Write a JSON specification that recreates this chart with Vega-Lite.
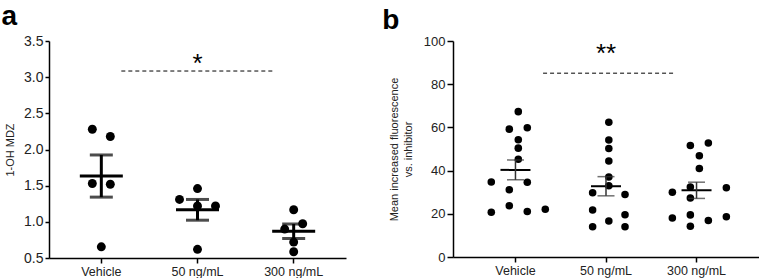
{
  "$schema": "https://vega.github.io/schema/vega-lite/v6.json",
  "padding": {"left": 1, "top": 3, "right": 0, "bottom": 0},
  "spacing": 36,
  "config": {
    "aria": false,
    "view": {"stroke": null},
    "font": "Liberation Sans",
    "axis": {"domainColor": "#000", "tickColor": "#000", "labelColor": "#222", "titleColor": "#222", "grid": false, "titleFontWeight": "normal", "labelFont": "Liberation Sans", "titleFont": "Liberation Sans", "domainWidth": 1.5, "tickWidth": 1.5, "labelOverlap": false},
    "title": {"anchor": "start", "frame": "bounds", "fontSize": 28, "fontWeight": "bold", "color": "#000", "baseline": "top", "font": "Liberation Sans"}
  },
  "datasets": {
    "a": [
      {"group": "Vehicle", "value": 2.28, "col": -1},
      {"group": "Vehicle", "value": 2.18, "col": 1},
      {"group": "Vehicle", "value": 1.53, "col": -1},
      {"group": "Vehicle", "value": 1.52, "col": 1},
      {"group": "Vehicle", "value": 0.655, "col": 0},
      {"group": "50 ng/mL", "value": 1.31, "col": -2},
      {"group": "50 ng/mL", "value": 1.46, "col": 0},
      {"group": "50 ng/mL", "value": 1.22, "col": 0},
      {"group": "50 ng/mL", "value": 1.22, "col": 2},
      {"group": "50 ng/mL", "value": 0.62, "col": 0},
      {"group": "300 ng/mL", "value": 1.167, "col": 0},
      {"group": "300 ng/mL", "value": 0.973, "col": 1},
      {"group": "300 ng/mL", "value": 0.9, "col": -1},
      {"group": "300 ng/mL", "value": 0.72, "col": 0},
      {"group": "300 ng/mL", "value": 0.586, "col": 0}
    ],
    "b": [
      {"group": "Vehicle", "value": 67.3, "col": 0},
      {"group": "Vehicle", "value": 59.2, "col": -1},
      {"group": "Vehicle", "value": 59.8, "col": 1},
      {"group": "Vehicle", "value": 54.3, "col": 0},
      {"group": "Vehicle", "value": 50.4, "col": 0},
      {"group": "Vehicle", "value": 45.3, "col": 0},
      {"group": "Vehicle", "value": 34.7, "col": -3},
      {"group": "Vehicle", "value": 34.6, "col": 1},
      {"group": "Vehicle", "value": 31.1, "col": -1},
      {"group": "Vehicle", "value": 23.7, "col": -1},
      {"group": "Vehicle", "value": 20.7, "col": -3},
      {"group": "Vehicle", "value": 21.1, "col": 1},
      {"group": "Vehicle", "value": 22.1, "col": 3},
      {"group": "50 ng/mL", "value": 62.4, "col": 0},
      {"group": "50 ng/mL", "value": 54.2, "col": 0},
      {"group": "50 ng/mL", "value": 50.2, "col": 0},
      {"group": "50 ng/mL", "value": 44.4, "col": 0},
      {"group": "50 ng/mL", "value": 37.0, "col": 0},
      {"group": "50 ng/mL", "value": 33.0, "col": 0},
      {"group": "50 ng/mL", "value": 29.7, "col": -1.8},
      {"group": "50 ng/mL", "value": 28.9, "col": 1.8},
      {"group": "50 ng/mL", "value": 21.8, "col": -1.8},
      {"group": "50 ng/mL", "value": 19.6, "col": 1.8},
      {"group": "50 ng/mL", "value": 16.7, "col": 0},
      {"group": "50 ng/mL", "value": 14.0, "col": -1.8},
      {"group": "50 ng/mL", "value": 14.0, "col": 1.8},
      {"group": "300 ng/mL", "value": 51.6, "col": -1},
      {"group": "300 ng/mL", "value": 52.8, "col": 1},
      {"group": "300 ng/mL", "value": 46.9, "col": 0},
      {"group": "300 ng/mL", "value": 41.0, "col": 0},
      {"group": "300 ng/mL", "value": 30.0, "col": -3},
      {"group": "300 ng/mL", "value": 32.4, "col": -1},
      {"group": "300 ng/mL", "value": 32.1, "col": 3},
      {"group": "300 ng/mL", "value": 27.3, "col": -1},
      {"group": "300 ng/mL", "value": 18.1, "col": -3},
      {"group": "300 ng/mL", "value": 19.5, "col": -1},
      {"group": "300 ng/mL", "value": 16.9, "col": 1},
      {"group": "300 ng/mL", "value": 18.6, "col": 3},
      {"group": "300 ng/mL", "value": 14.2, "col": -1}
    ],
    "sigA": [{"from": "Vehicle", "to": "300 ng/mL", "mid": "50 ng/mL", "y": 3.085, "ys": 3.07, "label": "*"}],
    "sigB": [{"from": "Vehicle", "to": "300 ng/mL", "mid": "50 ng/mL", "y": 85.1, "ys": 90.5, "label": "**"}]
  },
  "hconcat": [
    {
      "width": 297,
      "height": 217,
      "title": {"text": "a", "offset": 3, "dx": -3},
      "layer": [
        {
          "data": {"name": "a"},
          "mark": {"type": "circle", "size": 80, "color": "#000", "opacity": 1},
          "encoding": {
            "x": {"field": "group", "type": "nominal", "title": null, "scale": {"domain": ["Vehicle", "50 ng/mL", "300 ng/mL"], "paddingInner": 0, "paddingOuter": 0.044}, "axis": {"labelAngle": 0, "labelFontSize": 12.5, "tickSize": 5, "labelPadding": 2}},
            "xOffset": {"field": "col", "type": "quantitative", "scale": {"domain": [-5.344, 5.344]}},
            "y": {"field": "value", "type": "quantitative", "title": "1-OH MDZ", "scale": {"domain": [0.5, 3.5], "nice": false, "zero": false}, "axis": {"values": [0.5, 1.0, 1.5, 2.0, 2.5, 3.0, 3.5], "tickCount": 7, "format": ".1f", "labelFontSize": 14, "tickSize": 4, "titleFontSize": 11, "titlePadding": 8, "labelPadding": 2}}
          }
        },
        {
          "data": {"name": "a"},
          "mark": {"type": "tick", "color": "#000", "thickness": 3, "size": 43},
          "encoding": {
            "x": {"field": "group", "type": "nominal", "title": null},
            "y": {"aggregate": "mean", "field": "value", "type": "quantitative", "title": "1-OH MDZ", "axis": {"values": [0.5, 1.0, 1.5, 2.0, 2.5, 3.0, 3.5], "tickCount": 7, "format": ".1f", "labelFontSize": 14, "tickSize": 4, "titleFontSize": 11, "titlePadding": 8, "labelPadding": 2}}
          }
        },
        {
          "data": {"name": "a"},
          "mark": {"type": "errorbar", "extent": "stderr", "color": "#000", "thickness": 3, "ticks": {"size": 23}},
          "encoding": {
            "x": {"field": "group", "type": "nominal", "title": null},
            "y": {"field": "value", "type": "quantitative", "title": "1-OH MDZ", "axis": {"values": [0.5, 1.0, 1.5, 2.0, 2.5, 3.0, 3.5], "tickCount": 7, "format": ".1f", "labelFontSize": 14, "tickSize": 4, "titleFontSize": 11, "titlePadding": 8, "labelPadding": 2}}
          }
        },
        {
          "data": {"name": "sigA"},
          "mark": {"type": "rule", "strokeDash": [4, 3], "strokeWidth": 1, "color": "#000", "xOffset": 20, "x2Offset": -18.6},
          "encoding": {
            "x": {"field": "from", "type": "nominal", "title": null},
            "x2": {"field": "to"},
            "y": {"field": "y", "type": "quantitative", "title": "1-OH MDZ", "axis": {"values": [0.5, 1.0, 1.5, 2.0, 2.5, 3.0, 3.5], "tickCount": 7, "format": ".1f", "labelFontSize": 14, "tickSize": 4, "titleFontSize": 11, "titlePadding": 8, "labelPadding": 2}}
          }
        },
        {
          "data": {"name": "sigA"},
          "mark": {"type": "text", "fontSize": 26, "color": "#000", "baseline": "alphabetic"},
          "encoding": {
            "x": {"field": "mid", "type": "nominal", "title": null},
            "y": {"field": "ys", "type": "quantitative", "title": "1-OH MDZ", "axis": {"values": [0.5, 1.0, 1.5, 2.0, 2.5, 3.0, 3.5], "tickCount": 7, "format": ".1f", "labelFontSize": 14, "tickSize": 4, "titleFontSize": 11, "titlePadding": 8, "labelPadding": 2}},
            "text": {"field": "label"}
          }
        }
      ]
    },
    {
      "width": 306,
      "height": 216,
      "title": {"text": "b", "offset": 0, "dx": -6},
      "layer": [
        {
          "data": {"name": "b"},
          "mark": {"type": "circle", "size": 57, "color": "#000", "opacity": 1},
          "encoding": {
            "x": {"field": "group", "type": "nominal", "title": null, "scale": {"domain": ["Vehicle", "50 ng/mL", "300 ng/mL"], "paddingInner": 0, "paddingOuter": 0.19}, "axis": {"labelAngle": 0, "labelFontSize": 12.5, "tickSize": 5, "labelPadding": 2}},
            "xOffset": {"field": "col", "type": "quantitative", "scale": {"domain": [-5.144, 5.144]}},
            "y": {"field": "value", "type": "quantitative", "title": ["Mean increased fluorescence", "vs. inhibitor"], "scale": {"domain": [0, 100], "nice": false}, "axis": {"values": [0, 20, 40, 60, 80, 100], "labelFontSize": 13, "tickSize": 6, "titleFontSize": 11, "titleLineHeight": 14, "titlePadding": 10, "labelPadding": 2}}
          }
        },
        {
          "data": {"name": "b"},
          "mark": {"type": "tick", "color": "#000", "thickness": 2, "size": 30},
          "encoding": {
            "x": {"field": "group", "type": "nominal", "title": null},
            "y": {"aggregate": "mean", "field": "value", "type": "quantitative", "title": ["Mean increased fluorescence", "vs. inhibitor"]}
          }
        },
        {
          "data": {"name": "b"},
          "mark": {"type": "errorbar", "extent": "stderr", "color": "#333", "thickness": 1.5, "ticks": {"size": 17}},
          "encoding": {
            "x": {"field": "group", "type": "nominal", "title": null},
            "y": {"field": "value", "type": "quantitative", "title": ["Mean increased fluorescence", "vs. inhibitor"]}
          }
        },
        {
          "data": {"name": "sigB"},
          "mark": {"type": "rule", "strokeDash": [4, 3], "strokeWidth": 1, "color": "#000", "xOffset": 27.6, "x2Offset": -21.7},
          "encoding": {
            "x": {"field": "from", "type": "nominal", "title": null},
            "x2": {"field": "to"},
            "y": {"field": "y", "type": "quantitative", "title": ["Mean increased fluorescence", "vs. inhibitor"]}
          }
        },
        {
          "data": {"name": "sigB"},
          "mark": {"type": "text", "fontSize": 26, "color": "#000", "baseline": "alphabetic"},
          "encoding": {
            "x": {"field": "mid", "type": "nominal", "title": null},
            "y": {"field": "ys", "type": "quantitative", "title": ["Mean increased fluorescence", "vs. inhibitor"]},
            "text": {"field": "label"}
          }
        }
      ]
    }
  ]
}
